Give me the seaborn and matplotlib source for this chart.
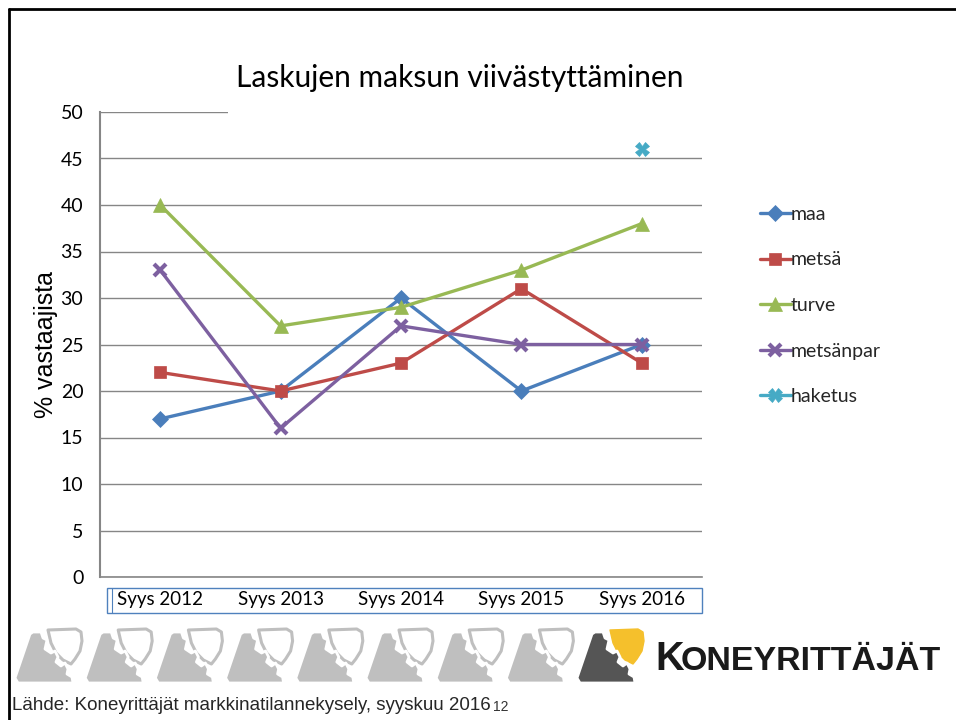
"""
Laskujen maksun viivästyttäminen — recreated slide chart
"""

import pandas as pd
import matplotlib
matplotlib.use("Agg")
import matplotlib.pyplot as plt
from matplotlib.patches import Polygon, Rectangle
from matplotlib.lines import Line2D
import seaborn as sns

# ── Data ─────────────────────────────────────────────────────────────────────
periods   = ["Syys 2012", "Syys 2013", "Syys 2014", "Syys 2015", "Syys 2016"]
maa       = [17, 20, 30, 20, 25]
metsa     = [22, 20, 23, 31, 23]
turve     = [40, 27, 29, 33, 38]
metsanpar = [33, 16, 27, 25, 25]
haketus   = [None, None, None, None, 46]

series = {"maa": maa, "metsä": metsa, "turve": turve,
          "metsänpar": metsanpar, "haketus": haketus}

STYLE = {
    "maa":       dict(color="#4A7EBB", marker="D", ms=8),
    "metsä":     dict(color="#BE4B48", marker="s", ms=9),
    "turve":     dict(color="#98B954", marker="^", ms=10),
    "metsänpar": dict(color="#7D60A0", marker="x", ms=9),
    "haketus":   dict(color="#46AAC5", marker="X", ms=10),
}

rows = []
for name, vals in series.items():
    for i, v in enumerate(vals):
        rows.append({"period": periods[i], "idx": i, "series": name, "value": v})
df = pd.DataFrame(rows)

sns.set_style("white")
TICK_FONT = ["Lato", "DejaVu Sans"]
SRC_FONT = ["Liberation Sans Narrow", "Liberation Sans", "DejaVu Sans"]
plt.rcParams["font.family"] = TICK_FONT

W, H = 956, 720
fig = plt.figure(figsize=(W / 100, H / 100), dpi=100)

def fx(px):
    return px / W

def fy(py):
    return 1 - py / H

# ── Plot area ────────────────────────────────────────────────────────────────
ax = fig.add_axes([fx(100), fy(577), fx(702) - fx(100), (577 - 112) / H])
for name in series:
    st = STYLE[name]
    d = df[df["series"] == name].dropna(subset=["value"])
    sns.lineplot(data=d, x="idx", y="value", ax=ax, color=st["color"],
                 linewidth=2.4, marker=st["marker"], markersize=st["ms"],
                 markeredgewidth=3 if st["marker"] == "x" else 0.5,
                 markeredgecolor=st["color"], legend=False)

ax.set_xlim(-0.5, 4.5)
ax.set_ylim(0, 50)
ax.set_yticks(range(0, 51, 5))
ax.yaxis.grid(True, color="#868686", linewidth=1)
ax.set_axisbelow(True)
for s in ["top", "right"]:
    ax.spines[s].set_visible(False)
ax.spines["left"].set_color("#868686")
ax.spines["left"].set_linewidth(1.5)
ax.spines["bottom"].set_color("#868686")
ax.spines["bottom"].set_linewidth(1.2)
ax.tick_params(axis="y", length=0, pad=12, labelsize=14, labelcolor="black")
ax.set_xticks(range(len(periods)))
ax.set_xticklabels(periods, fontsize=13.5, color="black")
ax.tick_params(axis="x", length=0, pad=10)
ax.set_xlabel("")
ax.set_ylabel("% vastaajista", fontsize=18, family=SRC_FONT[1:], labelpad=2,
              color="black")

# box around category labels
fig.add_artist(Rectangle((fx(107), fy(613)), fx(702) - fx(107), (613 - 588) / H,
                         transform=fig.transFigure, fill=False,
                         edgecolor="#4F81BD", linewidth=1))
fig.add_artist(Line2D([fx(112), fx(112)], [fy(613), fy(588)],
                      transform=fig.transFigure, color="#4F81BD", linewidth=0.8))

# white title box covering part of the top gridline
fig.add_artist(Rectangle((fx(228), fy(114)), fx(704) - fx(228), (114 - 55) / H,
                         transform=fig.transFigure, facecolor="white",
                         edgecolor="none", zorder=5))
fig.text(fx(460), fy(78), "Laskujen maksun viivästyttäminen", fontsize=21.5,
         ha="center", va="center", zorder=6, color="black")

# ── Legend ───────────────────────────────────────────────────────────────────
handles = []
for name in series:
    st = STYLE[name]
    handles.append(Line2D([0], [0], color=st["color"], linewidth=2.4,
                          marker=st["marker"], markersize=st["ms"],
                          markeredgewidth=3 if st["marker"] == "x" else 0.5,
                          markeredgecolor=st["color"]))
fig.legend(handles, list(series.keys()), loc="upper left",
           bbox_to_anchor=(fx(752), fy(198)), frameon=False, fontsize=14,
           handlelength=1.6, handletextpad=0.0, labelspacing=1.47,
           borderaxespad=0)

# ── Slide border ─────────────────────────────────────────────────────────────
fig.add_artist(Line2D([fx(9), fx(9)], [fy(9), 0], transform=fig.transFigure,
                      color="black", linewidth=2))
fig.add_artist(Line2D([fx(9), 1], [fy(9), fy(9)], transform=fig.transFigure,
                      color="black", linewidth=2))

# ── Logo row ─────────────────────────────────────────────────────────────────
gear = [(3, 56), (0, 51), (15, 7), (18, 5), (26, 5), (28, 11), (32, 13),
        (30, 22), (36, 26), (40, 24), (43, 30), (41, 35), (46, 39), (50, 36),
        (53, 42), (52, 47), (57, 50), (58, 56)]
shield = [(33, 3), (61, 2), (66, 5), (67, 14), (65, 24), (60, 32), (56, 37),
          (48, 33), (41, 26), (36, 16)]

def icon(x0, y0, gear_col, shield_face, shield_edge, lw):
    sp = [(fx(x0 + x), fy(y0 + y)) for x, y in shield]
    gp = [(fx(x0 + x), fy(y0 + y)) for x, y in gear]
    fig.add_artist(Polygon(sp, closed=True, transform=fig.transFigure,
                           facecolor=shield_face, edgecolor=shield_edge,
                           linewidth=lw, joinstyle="round"))
    fig.add_artist(Polygon(gp, closed=True, transform=fig.transFigure,
                           facecolor=gear_col, edgecolor="white",
                           linewidth=2, joinstyle="round"))

for i in range(8):
    icon(15 + 70.2 * i, 627, "#BFBFBF", "white", "#BFBFBF", 2.2)
icon(577, 627, "#555555", "#F5C02C", "#F5C02C", 1)

fig.text(fx(655), fy(659), "K", fontsize=28.5, fontweight="bold",
         family=SRC_FONT, ha="left", va="center", color="#1a1a1a")
fig.text(fx(681), fy(661), "ONEYRITTÄJÄT", fontsize=24.5, fontweight="bold",
         family=SRC_FONT, ha="left", va="center", color="#1a1a1a")

# ── Source ───────────────────────────────────────────────────────────────────
fig.text(fx(12), fy(706), "Lähde: Koneyrittäjät markkinatilannekysely, syyskuu 2016",
         fontsize=13.5, family=SRC_FONT, ha="left", va="center")
fig.text(fx(493), fy(707), "12", fontsize=10, family=SRC_FONT,
         ha="left", va="center", color="#333333")

fig.savefig("out.png", dpi=100, facecolor="white")
